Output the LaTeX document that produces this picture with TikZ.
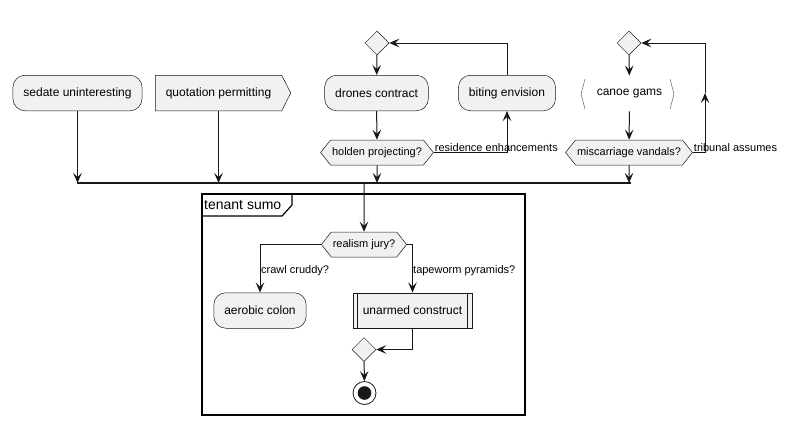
\documentclass[tikz,border=0pt]{standalone}
\usepackage{fontspec}
\setmainfont{Liberation Sans}
\usetikzlibrary{arrows.meta,calc,shapes.geometric,shapes.symbols}
\definecolor{umlfill}{HTML}{F1F1F1}
\definecolor{umlline}{HTML}{181818}
\tikzset{
	act/.style={draw=umlline, fill=umlfill, line width=0.5pt, rounded corners=12pt, minimum height=35.5pt, inner xsep=10.5pt, font=\fontsize{12}{14}\selectfont},
	flag/.style={signal, signal to=east, signal pointer angle=126, draw=umlline, fill=umlfill, line width=0.5pt, minimum height=35.5pt, inner xsep=10.5pt, font=\fontsize{12}{14}\selectfont},
	sub/.style={draw=umlline, fill=umlfill, line width=0.5pt, minimum height=35.5pt, inner xsep=10pt, font=\fontsize{12}{14}\selectfont},
	hexa/.style={signal, signal to=east and west, signal pointer angle=103, draw=umlline, fill=umlfill, line width=0.5pt, minimum height=25pt, inner xsep=1.5pt, font=\fontsize{11}{13}\selectfont},
	merge/.style={diamond, draw=umlline, fill=umlfill, line width=0.5pt, minimum size=24pt, inner sep=0pt},
	flow/.style={draw=umlline, line width=1pt, -{Stealth[length=10pt,width=8.5pt,inset=4pt]}},
	lbl/.style={font=\fontsize{11}{13}\selectfont, inner sep=1pt},
}

\begin{document}
\begin{tikzpicture}[x=1pt,y=-1pt]
				\useasboundingbox (0,0) rectangle (786,426);
				
				\node[act] (sedate) at (77.5,93) {sedate uninteresting};
				\node[flag] (quotation) at (218.5,93) {quotation permitting};
				
				\node[merge] (loopa) at (377,43) {};
				\node[act] (drones) at (376.5,93) {drones contract};
				\node[act] (biting) at (507,93) {biting envision};
				\node[hexa] (holden) at (377,152.5) {holden projecting?};
				
				\node[merge] (loopb) at (629,43) {};
				\node[minimum height=35.5pt, inner xsep=11.5pt, font=\fontsize{12}{14}\selectfont] (canoe) at (629.5,93.5) {canoe gams};
				\draw[umlline!60, line width=0.6pt] (585,79) -- (581,94) -- (585,109);
				\draw[umlline!60, line width=0.6pt] (670,79) -- (674,94) -- (670,109);
				\node[hexa] (miscarriage) at (629,152.5) {miscarriage vandals?};
				
				\coordinate (barl) at (77,183);
				\coordinate (barr) at (631,183);
				\draw[umlline, line width=1.5pt] (barl) -- (barr);
				
				\draw[flow] (sedate) -- (sedate |- barl);
				\draw[flow] (quotation) -- (quotation |- barl);
				
				\draw[flow] (loopa) -- (drones);
				\draw[flow] (drones) -- (holden);
				\draw[flow] (holden) -- (holden |- barl);
				\draw[flow] (holden.east) -| (biting.south);
				\draw[flow] (biting.north) |- (loopa.east);
				\node[lbl, anchor=south west] at (holden.east) {residence enhancements};
				
				\coordinate (tribunal) at (705,93);
				\draw[flow] (loopb) -- (canoe);
				\draw[flow] (canoe) -- (miscarriage);
				\draw[flow] (miscarriage) -- (miscarriage |- barl);
				\draw[flow] (miscarriage.east) -| (tribunal);
				\draw[flow] (tribunal) |- (loopb.east);
				\node[lbl, anchor=south west] at (miscarriage.east) {tribunal assumes};
				
				\draw[black, line width=1.2pt] (202,194) rectangle (525,415);
				\draw[black, line width=1.2pt] (202,216) -- (282,216) -- (292,205) -- (292,194);
				\node[anchor=west, inner sep=1pt, font=\fontsize{14}{16}\selectfont] (sumo) at (203,205.5) {tenant sumo};
				
				\node[hexa] (realism) at (364,244.5) {realism jury?};
				\node[act] (aerobic) at (260,310.5) {aerobic colon};
				\node[sub] (unarmed) at (412.5,310.5) {unarmed construct};
				\draw[umlline, line width=0.5pt] ([xshift=5pt]unarmed.north west) -- ([xshift=5pt]unarmed.south west);
				\draw[umlline, line width=0.5pt] ([xshift=-5pt]unarmed.north east) -- ([xshift=-5pt]unarmed.south east);
				\node[merge] (loopc) at (364,349.5) {};
				\node[circle, draw=umlline, line width=0.8pt, minimum size=23pt, inner sep=0pt] (stop) at (364.5,393) {};
				\fill[umlline] (stop) circle (6.8pt);
				
				\draw[flow] (realism |- barl) -- (realism);
				\draw[flow] (realism.west) -| (aerobic.north);
				\draw[flow] (realism.east) -| (unarmed.north);
				\node[lbl, anchor=west] (crawl) at (260,271) {crawl cruddy?};
				\node[lbl, anchor=west] (tapeworm) at (412,271) {tapeworm pyramids?};
				\draw[flow] (unarmed.south) |- (loopc.east);
				\draw[flow] (loopc) -- (stop);
			\end{tikzpicture}
\end{document}
